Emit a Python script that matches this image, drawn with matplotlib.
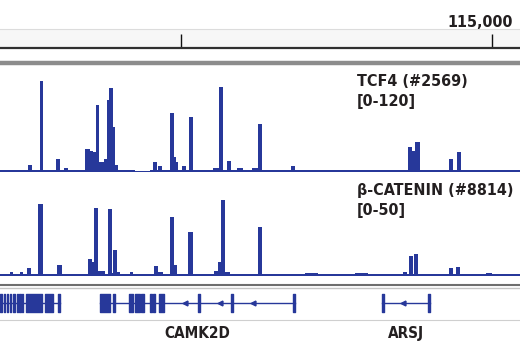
import matplotlib
matplotlib.use('Agg')
import matplotlib.pyplot as plt
from matplotlib.lines import Line2D
from matplotlib.transforms import blended_transform_factory

# chr4 position in kb
x_min, x_max = 114209, 115045
ruler_ticks = [114500, 115000]
ruler_labels = ['', '115,000']

# TCF4 track, [0-120]
tcf4_edges = [114209, 114222, 114225, 114232, 114235, 114254, 114260, 114265, 114272, 114273,
              114278, 114285, 114299, 114305, 114312, 114318, 114325, 114331, 114334, 114341,
              114346, 114354, 114359, 114363, 114368, 114376, 114381, 114384, 114391, 114394,
              114399, 114408, 114412, 114418, 114421, 114426, 114450, 114455, 114461, 114463,
              114469, 114471, 114482, 114489, 114492, 114495, 114502, 114508, 114513, 114519,
              114531, 114535, 114542, 114551, 114561, 114568, 114574, 114580, 114590, 114600,
              114604, 114611, 114614, 114624, 114630, 114650, 114655, 114677, 114683, 114707,
              114720, 114725, 114755, 114760, 114770, 114776, 114810, 114820, 114835, 114845,
              114860, 114865, 114871, 114876, 114884, 114892, 114900, 114906, 114931, 114937,
              114944, 114950, 114981, 114990, 115045]
tcf4_values = [2.3, 1.2, 1.7, 1.2, 1.7, 8, 1.2, 1.7, 1.2, 104,
               2.3, 1.2, 14, 1.2, 3.5, 1.2, 1.7, 1.2, 1.7, 1.2,
               26.5, 24, 23, 77, 11.5, 15, 82, 96, 51, 7,
               2.3, 1.2, 1.7, 1.2, 1.7, 0.8, 2.3, 10.5, 1.7, 6,
               1.7, 2.3, 67, 17, 10.5, 1.7, 6, 1.7, 63, 2.3,
               1.2, 1.7, 1.2, 4.5, 98, 2.3, 12.5, 1.2, 3.5, 1.2,
               2.3, 1.2, 3.5, 55, 1.7, 1.2, 1.7, 6, 1.7, 1.2,
               1.7, 1.2, 1.7, 1.2, 1.7, 1.2, 1.7, 1.2, 1.7, 1.2,
               2.3, 28, 24, 33.5, 2.3, 1.2, 1.7, 1.2, 15, 2.3,
               23, 1.7, 1.2, 1.7]

# beta-catenin track, [0-50]
ctnnb_edges = [114209, 114225, 114230, 114241, 114246, 114252, 114259, 114270, 114278, 114286,
               114293, 114301, 114309, 114338, 114350, 114357, 114360, 114367, 114373, 114378,
               114383, 114389, 114391, 114397, 114402, 114418, 114423, 114457, 114463, 114471,
               114482, 114489, 114494, 114511, 114519, 114553, 114559, 114564, 114571, 114579,
               114624, 114630, 114700, 114720, 114780, 114800, 114857, 114863, 114867, 114873,
               114875, 114881, 114931, 114937, 114942, 114949, 114990, 115000, 115045]
ctnnb_values = [0.9, 1.7, 0.9, 1.9, 1.0, 3.8, 1.0, 34.6, 0.9, 1.2,
                0.8, 5.5, 0.9, 0.8, 8.4, 6.7, 32.7, 2.6, 2.4, 1.0,
                32.0, 1.4, 12.5, 1.9, 0.9, 1.9, 1.0, 5.0, 1.9, 1.0,
                28.6, 5.5, 1.0, 21.2, 1.0, 2.6, 6.7, 36.3, 1.9, 1.0,
                23.6, 1.0, 1.4, 0.9, 1.4, 1.0, 1.9, 1.0, 9.6, 1.0,
                10.6, 1.0, 3.8, 1.0, 4.3, 1.0, 1.4, 1.0]

# genes: name, start, end, exons, intron arrows (minus strand)
ank2_exons = [(114209, 114213), (114215, 114217), (114220, 114222), (114225, 114227),
              (114230, 114233), (114236, 114238), (114240, 114243), (114244, 114246),
              (114251, 114277), (114281, 114294), (114302, 114305)]
camk2d_exons = [(114370, 114386), (114391, 114394), (114416, 114423), (114426, 114434),
                (114436, 114441), (114450, 114453), (114455, 114458), (114465, 114473),
                (114528, 114531), (114581, 114584), (114680, 114683)]
camk2d_arrows = [114506, 114563, 114616]
arsj_exons = [(114823, 114826), (114897, 114900)]
arsj_arrows = [114857]
genes = [('', 114209, 114305, ank2_exons, []),
         ('CAMK2D', 114370, 114683, camk2d_exons, camk2d_arrows),
         ('ARSJ', 114823, 114900, arsj_exons, arsj_arrows)]

blue = '#27389a'
txt = '#231f20'
font = dict(family='DejaVu Sans', fontstretch='condensed', fontweight='bold', color=txt)
H = 351.0


def fy(px):
    return 1 - px / H


fig = plt.figure(figsize=(5.2, 3.51), dpi=100)

# ruler
axr = fig.add_axes([0, fy(48), 1, (48 - 29) / H])
axr.set_xlim(x_min, x_max)
axr.set_ylim(0, 1)
axr.set_facecolor('#f7f7f7')
for s in ['left', 'right']:
    axr.spines[s].set_visible(False)
axr.spines['top'].set_color('#dcdcdc')
axr.spines['top'].set_linewidth(0.8)
axr.spines['bottom'].set_color('#303030')
axr.spines['bottom'].set_linewidth(1.6)
axr.set_xticks([])
axr.set_yticks([])
axr.vlines(ruler_ticks, 0, 0.72, color='#111111', lw=1)
for t, lab in zip(ruler_ticks, ruler_labels):
    axr.annotate(lab, xy=(t, 1), xycoords=('data', 'axes fraction'),
                 xytext=(15, 1.5), textcoords='offset points', ha='right', va='baseline',
                 fontsize=11.5, **font)

fig.add_artist(Line2D([0, 1], [fy(62.5)] * 2, transform=fig.transFigure,
                      color='#8c8c8c', lw=3.2))

# signal tracks
tracks = [(tcf4_edges, tcf4_values, 120, 171.5, 'TCF4 (#2569)', '[0-120]', 86.5),
          (ctnnb_edges, ctnnb_values, 50, 276, 'β-CATENIN (#8814)', '[0-50]', 195)]
for edges, values, ymax, base, name, rng, ty in tracks:
    ax = fig.add_axes([0, fy(base), 1, 104 / H])
    ax.stairs(values, edges, fill=True, color=blue, baseline=0)
    ax.set_xlim(x_min, x_max)
    ax.set_ylim(0, ymax)
    ax.axis('off')
    fig.text(357 / 520, fy(ty), name, fontsize=11.5, **font)
    fig.text(357 / 520, fy(ty + 19.5), rng, fontsize=11.5, **font)

fig.add_artist(Line2D([0, 1], [fy(285)] * 2, transform=fig.transFigure, color='#6e6e6e', lw=1.5))
fig.add_artist(Line2D([0, 1], [fy(287.5)] * 2, transform=fig.transFigure, color='#c4c4c4', lw=1))

# gene track
axg = fig.add_axes([0, fy(320), 1, (320 - 288) / H])
axg.set_xlim(x_min, x_max)
axg.set_ylim(0, 1)
for s in ['left', 'right', 'top']:
    axg.spines[s].set_visible(False)
axg.spines['bottom'].set_color('#cfcfcf')
axg.spines['bottom'].set_linewidth(0.8)
axg.set_xticks([])
axg.set_yticks([])
yc = (320 - 302.5) / 32
hh = 9 / 32
trans = blended_transform_factory(axg.transData, fig.transFigure)
for name, start, end, exons, arrows in genes:
    axg.plot([start, end], [yc, yc], color=blue, lw=1)
    axg.broken_barh([(s, e - s) for s, e in exons], (yc - hh, 2 * hh), color=blue)
    axg.plot(arrows, [yc] * len(arrows), ls='none', marker='<', ms=3.5, color=blue)
    if name:
        axg.text((start + end) / 2, fy(338), name, transform=trans, ha='center', va='baseline',
                 fontsize=11, **font)

fig.savefig('out.png', dpi=100)
